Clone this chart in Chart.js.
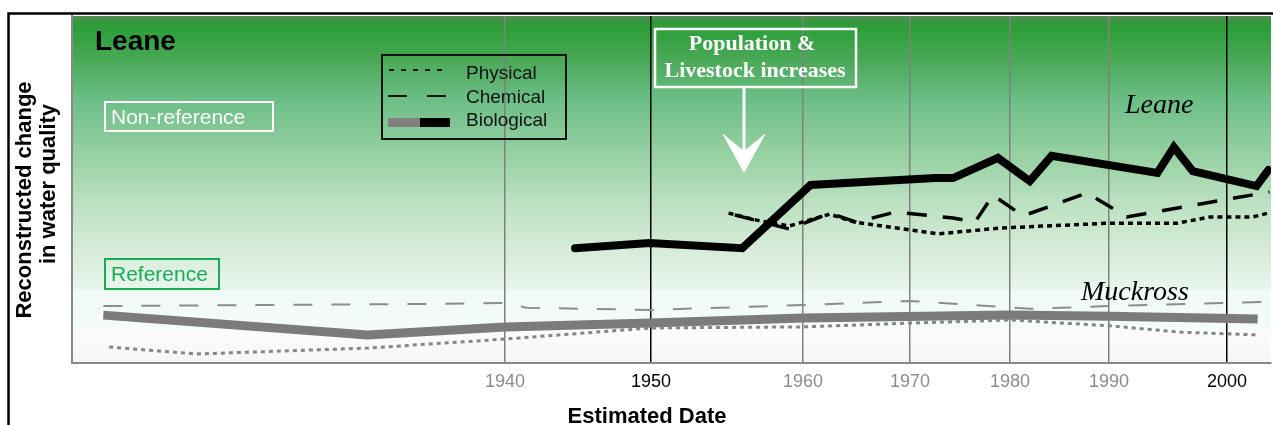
<!DOCTYPE html>
<html>
<head>
<meta charset="utf-8">
<script src="https://cdn.jsdelivr.net/npm/chart.js@4.4.0/dist/chart.umd.min.js"></script>
<style>
    html, body { margin: 0; padding: 0; background: #fff; }
    canvas { display: block; }
</style>
</head>
<body>
<canvas id="water-quality-chart" width="1273" height="425"></canvas>
<script>
// dated horizons of the core, and where each one sits along the axis (0-100)
const dateYears = [1940, 1950, 1960, 1970, 1980, 1990, 2000];
const datePos = [36.11, 48.29, 60.97, 69.89, 78.23, 86.49, 96.33];
const darkYears = [1950, 2000];

// Leane
const leaneBioYears = [1944.8, 1949.9, 1956.0, 1960.7, 1972.5, 1974.3, 1978.8, 1982.0, 1984.2, 1994.1, 1995.5, 1997.1, 2002.5, 2003.5];
const leaneBioValues = [33.1, 34.6, 33.1, 51.3, 53.3, 53.3, 59.1, 52.4, 59.7, 54.8, 62.2, 55.3, 51.0, 55.6];
const leaneChemYears = [1955.5, 1959.1, 1962.5, 1965.0, 1968.6, 1974.3, 1976.5, 1978.3, 1981.3, 1987.8, 1991.5, 2003.6];
const leaneChemValues = [42.7, 38.6, 43.2, 40.6, 43.5, 41.8, 40.6, 48.4, 42.4, 49.0, 42.1, 49.3];
const leanePhysYears = [1955.1, 1957.2, 1959.1, 1962.5, 1964.8, 1972.8, 1979.0, 1990.1, 1995.8, 1998.6, 2002.2, 2003.5];
const leanePhysValues = [43.2, 40.9, 39.5, 42.9, 40.6, 37.2, 38.9, 40.3, 40.3, 42.1, 42.1, 43.2];

// Muckross
const muckBioYears = [1912.5, 1930.6, 1940, 1950, 1960, 1980, 1990.1, 2002.6];
const muckBioValues = [13.8, 8.1, 10.4, 11.5, 13.0, 13.8, 13.5, 12.7];
const muckChemYears = [1912.5, 1934.2, 1940, 1941.5, 1950, 1960, 1970, 1982.0, 1990.1, 2003.5];
const muckChemValues = [16.4, 17.0, 17.3, 15.9, 15.3, 16.7, 17.9, 15.6, 16.4, 17.6];
const muckPhysYears = [1912.9, 1918.9, 1930.6, 1940, 1950, 1960, 1970, 1980, 1990.1, 1996.0, 2002.6];
const muckPhysValues = [4.6, 2.6, 4.3, 6.9, 10.1, 10.4, 11.5, 12.4, 10.7, 8.9, 8.1];

const SANS = '"Liberation Sans", Arial, sans-serif';
const SERIF = '"Liberation Serif", "Times New Roman", serif';

// year -> axis position, piecewise between dated horizons
function toPos(year) {
    const n = dateYears.length;
    let i = 0;
    if (year >= dateYears[n - 1]) {
        i = n - 2;
    } else {
        while (i < n - 2 && year > dateYears[i + 1]) i++;
    }
    const t = (year - dateYears[i]) / (dateYears[i + 1] - dateYears[i]);
    return datePos[i] + t * (datePos[i + 1] - datePos[i]);
}

function toPoints(years, values) {
    return years.map((yr, i) => ({x: toPos(yr), y: values[i]}));
}

function line(data, color, width, dash, cap) {
    return {
        data: data,
        borderColor: color,
        borderWidth: width,
        borderDash: dash,
        borderCapStyle: cap || 'butt',
        borderJoinStyle: 'miter',
        pointRadius: 0,
        tension: 0,
        fill: false
    };
}

const decorPlugin = {
    id: 'decor',
    beforeDraw(chart) {
        const ctx = chart.ctx;
        const a = chart.chartArea;
        const g = ctx.createLinearGradient(0, a.top, 0, a.bottom);
        g.addColorStop(0, '#5a8c5c');
        g.addColorStop(0.012, '#3a9640');
        g.addColorStop(0.035, '#2c9e38');
        g.addColorStop(0.127, '#4aa957');
        g.addColorStop(0.242, '#6cbe86');
        g.addColorStop(0.386, '#93cf9f');
        g.addColorStop(0.53, '#b9e0bf');
        g.addColorStop(0.674, '#d6ecd9');
        g.addColorStop(0.784, '#e8f5ec');
        g.addColorStop(0.795, '#f0faf6');
        g.addColorStop(0.899, '#f5fbf8');
        g.addColorStop(0.911, '#fbfbfb');
        g.addColorStop(1, '#f7f7f7');
        ctx.save();
        ctx.fillStyle = g;
        ctx.fillRect(a.left, a.top, a.right - a.left, a.bottom - a.top);

        // outer frame, top and left only
        ctx.strokeStyle = '#000';
        ctx.lineWidth = 2.5;
        ctx.beginPath();
        ctx.moveTo(8.5, 425);
        ctx.lineTo(8.5, 13.5);
        ctx.lineTo(1273, 13.5);
        ctx.stroke();

        // axis titles
        ctx.fillStyle = '#000';
        ctx.font = 'bold 22px ' + SANS;
        ctx.textAlign = 'center';
        ctx.textBaseline = 'alphabetic';
        ctx.fillText('Estimated Date', 647, 423);
        ctx.translate(30.5, 200);
        ctx.rotate(-Math.PI / 2);
        ctx.fillText('Reconstructed change', 0, 0);
        ctx.fillText('in water quality', 16, 24);
        ctx.restore();
    },
    afterDatasetsDraw(chart) {
        const ctx = chart.ctx;
        ctx.save();

        // panel title
        ctx.fillStyle = '#000';
        ctx.font = 'bold 28px ' + SANS;
        ctx.textBaseline = 'alphabetic';
        ctx.textAlign = 'left';
        ctx.fillText('Leane', 95, 50);

        // non-reference / reference tags
        ctx.lineWidth = 2;
        ctx.strokeStyle = '#fff';
        ctx.strokeRect(105, 102, 168, 29);
        ctx.fillStyle = '#fff';
        ctx.font = '21px ' + SANS;
        ctx.fillText('Non-reference', 111, 123.5);

        ctx.strokeStyle = '#1aab55';
        ctx.strokeRect(105, 259, 114, 30);
        ctx.fillStyle = '#1aab55';
        ctx.fillText('Reference', 111, 281);

        // legend
        ctx.strokeStyle = '#111';
        ctx.lineWidth = 2;
        ctx.strokeRect(382, 55, 184, 84);
        ctx.setLineDash([5, 7]);
        ctx.beginPath();
        ctx.moveTo(389, 70);
        ctx.lineTo(449, 70);
        ctx.stroke();
        ctx.setLineDash([19, 20]);
        ctx.beginPath();
        ctx.moveTo(388, 96);
        ctx.lineTo(447, 96);
        ctx.stroke();
        ctx.setLineDash([]);
        ctx.fillStyle = '#808080';
        ctx.fillRect(388, 118, 32, 9);
        ctx.fillStyle = '#000';
        ctx.fillRect(420, 118, 30, 9);
        ctx.fillStyle = '#111';
        ctx.font = '19px ' + SANS;
        ctx.fillText('Physical', 466, 78.5);
        ctx.fillText('Chemical', 466, 102.5);
        ctx.fillText('Biological', 466, 126);

        // population annotation with arrow
        ctx.strokeStyle = '#fff';
        ctx.lineWidth = 2.5;
        ctx.strokeRect(655, 29, 201, 58);
        ctx.fillStyle = '#fff';
        ctx.font = 'bold 22px ' + SERIF;
        ctx.textAlign = 'center';
        ctx.fillText('Population &', 752, 50);
        ctx.fillText('Livestock increases', 755, 76.5);
        ctx.lineWidth = 3;
        ctx.beginPath();
        ctx.moveTo(744, 87);
        ctx.lineTo(744, 154);
        ctx.stroke();
        ctx.beginPath();
        ctx.moveTo(744, 173);
        ctx.lineTo(722, 133);
        ctx.lineTo(744, 151);
        ctx.lineTo(766, 133);
        ctx.closePath();
        ctx.fill();

        // lake names
        ctx.textAlign = 'left';
        ctx.fillStyle = '#000';
        ctx.font = 'italic 28px ' + SERIF;
        ctx.fillText('Leane', 1125, 113);
        ctx.fillText('Muckross', 1081, 300);

        ctx.restore();
    }
};

const chart = new Chart(document.getElementById('water-quality-chart'), {
    type: 'line',
    data: {
        datasets: [
            line(toPoints(muckChemYears, muckChemValues), '#8c8c8c', 2, [19, 19]),
            line(toPoints(muckPhysYears, muckPhysValues), '#858585', 3, [4, 4]),
            line(toPoints(muckBioYears, muckBioValues), '#7b7b7b', 9, []),
            line(toPoints(leanePhysYears, leanePhysValues), '#000', 3.5, [5, 4]),
            line(toPoints(leaneChemYears, leaneChemValues), '#000', 3.5, [20, 16]),
            line(toPoints(leaneBioYears, leaneBioValues), '#000', 8, [], 'round')
        ]
    },
    options: {
        responsive: false,
        devicePixelRatio: 1,
        animation: false,
        layout: {
            padding: {left: 0, top: 16, right: 2, bottom: 0}
        },
        plugins: {
            legend: {display: false},
            tooltip: {enabled: false}
        },
        scales: {
            x: {
                type: 'linear',
                min: 0,
                max: 100,
                afterBuildTicks: (scale) => {
                    scale.ticks = datePos.map((v) => ({value: v}));
                },
                afterFit: (scale) => {
                    scale.height = 62;
                },
                ticks: {
                    padding: 8,
                    maxRotation: 0,
                    autoSkip: false,
                    font: {family: SANS, size: 18},
                    color: (c) => darkYears.includes(dateYears[c.index]) ? '#000' : '#8c8c8c',
                    callback: (value, index) => dateYears[index]
                },
                grid: {
                    drawTicks: false,
                    lineWidth: 1.5,
                    color: (c) => (c.tick && darkYears.includes(dateYears[c.index])) ? '#000' : '#808080'
                },
                border: {display: true, color: '#8a8a8a', width: 2},
                title: {display: false}
            },
            y: {
                type: 'linear',
                min: 0,
                max: 100,
                afterFit: (scale) => {
                    scale.width = 72;
                },
                ticks: {display: false},
                grid: {display: false},
                border: {display: true, color: '#8a8a8a', width: 2},
                title: {display: false}
            }
        }
    },
    plugins: [decorPlugin]
});
</script>
</body>
</html>
